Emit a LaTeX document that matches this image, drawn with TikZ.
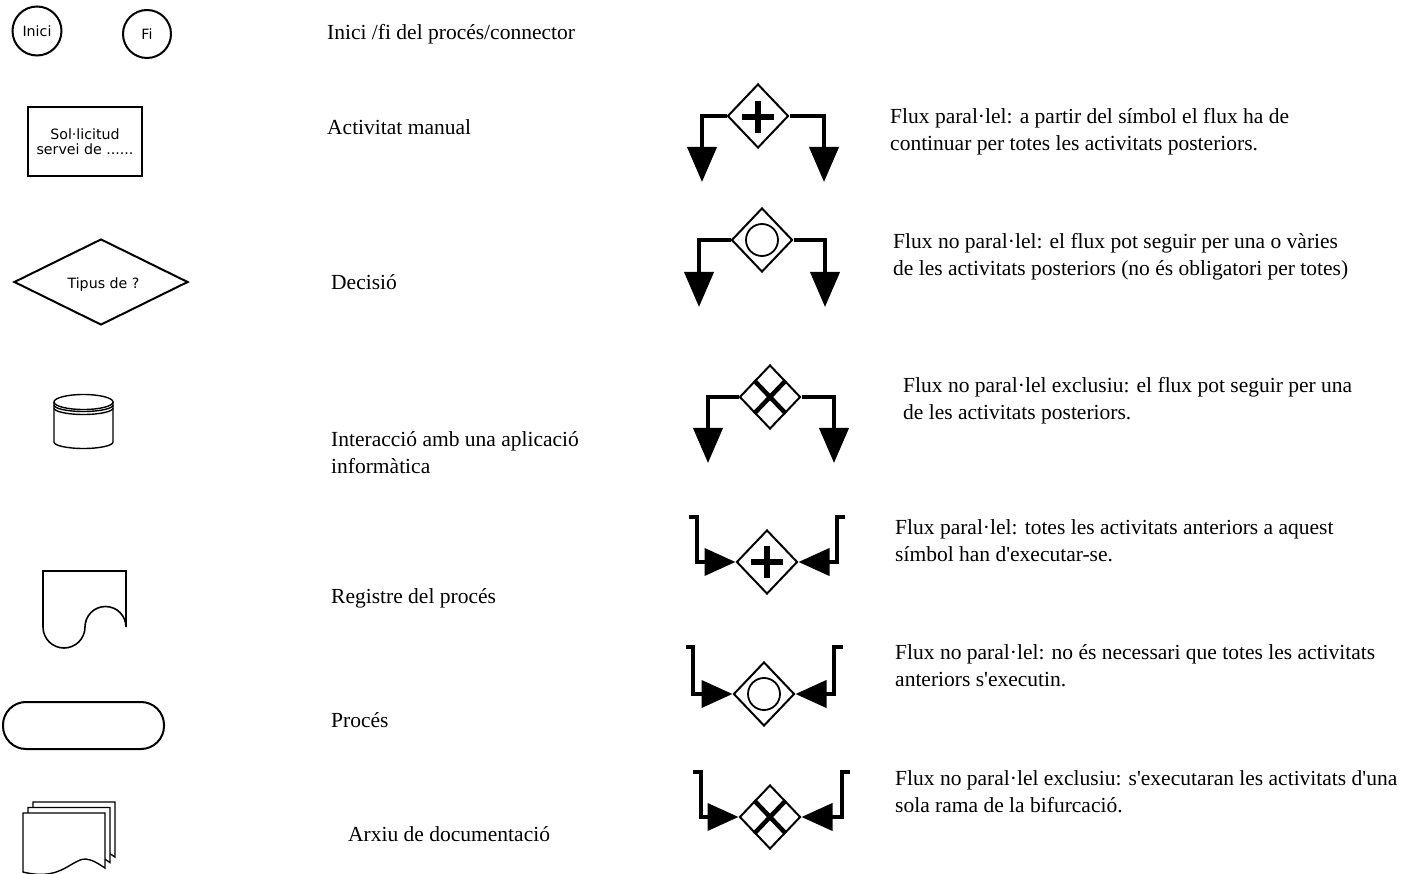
\documentclass[tikz,border=0pt]{standalone}
\usepackage{fontspec}
\setmainfont{Liberation Serif}
\newfontfamily\sansf{DejaVu Sans}
\usetikzlibrary{shapes.geometric,arrows.meta,calc}
\newcommand\sq{\textquotesingle}
\begin{document}
\begin{tikzpicture}[x=1pt,y=-1pt,
  shp/.style={draw, line width=2pt, inner sep=0pt, font=\sansf\fontsize{14.2}{16.5}\selectfont, align=center},
  thin/.style={line width=1.4pt},
  txt/.style={anchor=base west, inner sep=0pt, font=\fontsize{21.5}{27}\selectfont, align=left},
  gw/.style={diamond, draw, line width=2pt, fill=white, inner sep=0pt, minimum width=61pt, minimum height=64pt},
  flow/.style={line width=4pt, line join=miter},
  tipdown/.style={-{Triangle[length=35pt,width=29pt]}},
  tipin/.style={-{Triangle[length=31pt,width=27pt]}},
  plusline/.style={line width=6pt},
  xline/.style={line width=4.5pt},
  ring/.style={line width=1.8pt}]
\useasboundingbox (0,0) rectangle (1409,874);

% ---------- left column shapes ----------
\node[shp, circle, minimum size=49pt] (inici) at (37,31) {Inici};
\node[shp, circle, minimum size=48pt] (fi) at (147,34) {Fi};
\node[shp, rectangle, minimum width=114pt, minimum height=69pt] (manual) at (85,141.5) {Sol·licitud\\[-1pt]servei de ......};
\node[shp, diamond, minimum width=174pt, minimum height=86pt] (decisio) at (101,282) {\raisebox{-7pt}[0pt][0pt]{\hspace*{5pt}Tipus de ?}};

% cylinder (application)
\draw[thin, fill=white] (54,402) -- (54,442) arc[start angle=180, end angle=0, x radius=29.5, y radius=6.5] -- (113,402);
\draw[thin] (83.5,402) ellipse[x radius=29.5, y radius=7.5];
\draw[thin] (54,405) arc[start angle=180, end angle=0, x radius=29.5, y radius=6.5];
\draw[thin] (54,408) arc[start angle=180, end angle=0, x radius=29.5, y radius=6.5];

% registre del proces
\draw[line width=1.6pt] (43,571) -- (43,627) arc[start angle=180, end angle=0, radius=21]
  arc[start angle=180, end angle=360, radius=20.5] -- (126,571) -- cycle;

% proces
\draw[line width=2pt, rounded corners=23pt] (3,702) rectangle (164,749);

% arxiu de documentacio (three pages)
\foreach \dx/\dy in {10/-11, 5/-5.5, 0/0}{
  \draw[thin, fill=white, shift={(\dx,\dy)}] (23,813) -- (105,813) -- (105,868)
    .. controls (96,862) and (88,857) .. (80,860)
    .. controls (66,866) and (55,880) .. (23,872) -- cycle;
}

% ---------- middle column texts ----------
\node[txt] (t1) at (327,39.5) {Inici /fi del procés/connector};
\node[txt] (t2) at (327,135) {Activitat manual};
\node[txt] (t3) at (331,290) {Decisió};
\node[txt] (t4) at (331,474) {Interacció amb una aplicació\\informàtica};
\node[txt] (t5) at (331,603) {Registre del procés};
\node[txt] (t6) at (331,727) {Procés};
\node[txt] (t7) at (348,841) {Arxiu de documentació};

% ---------- gateways: diverging ----------
\node[gw] (g1) at (758,116) {};
\coordinate (g1l) at (702,182);
\coordinate (g1r) at (824,182);
\draw[flow, tipdown] (g1.west) -| (g1l);
\draw[flow, tipdown] (g1.east) -| (g1r);
\draw[plusline] ([xshift=-16pt,yshift=-1pt]g1.center) -- ([xshift=16pt,yshift=-1pt]g1.center);
\draw[plusline] ([yshift=-17pt]g1.center) -- ([yshift=15pt]g1.center);

\node[gw] (g2) at (762,240) {};
\coordinate (g2l) at (699,307);
\coordinate (g2r) at (825,307);
\draw[flow, tipdown] (g2.west) -| (g2l);
\draw[flow, tipdown] (g2.east) -| (g2r);
\draw[ring] (g2.center) circle[radius=16pt];

\node[gw] (g3) at (770,397) {};
\coordinate (g3l) at (708,463);
\coordinate (g3r) at (834,463);
\draw[flow, tipdown] (g3.west) -| (g3l);
\draw[flow, tipdown] (g3.east) -| (g3r);
\draw[xline] ($(g3.north)!0.5!(g3.west)$) -- ($(g3.south)!0.5!(g3.east)$);
\draw[xline] ($(g3.north)!0.5!(g3.east)$) -- ($(g3.south)!0.5!(g3.west)$);

% ---------- gateways: converging ----------
\node[gw] (g4) at (767,562) {};
\coordinate (g4a) at (689,517);
\coordinate (g4b) at (845,517);
\draw[flow, tipin] (g4a) -- ++(8,0) |- (g4.west);
\draw[flow, tipin] (g4b) -- ++(-8,0) |- (g4.east);
\draw[plusline] ([xshift=-16pt]g4.center) -- ([xshift=16pt]g4.center);
\draw[plusline] ([yshift=-16pt]g4.center) -- ([yshift=16pt]g4.center);

\node[gw] (g5) at (764,694) {};
\coordinate (g5a) at (686,647);
\coordinate (g5b) at (843,647);
\draw[flow, tipin] (g5a) -- ++(7,0) |- (g5.west);
\draw[flow, tipin] (g5b) -- ++(-9,0) |- (g5.east);
\draw[ring] (g5.center) circle[radius=16pt];

\node[gw] (g6) at (770,817) {};
\coordinate (g6a) at (693,772);
\coordinate (g6b) at (850,772);
\draw[flow, tipin] (g6a) -- ++(8,0) |- (g6.west);
\draw[flow, tipin] (g6b) -- ++(-8,0) |- (g6.east);
\draw[xline] ($(g6.north)!0.5!(g6.west)$) -- ($(g6.south)!0.5!(g6.east)$);
\draw[xline] ($(g6.north)!0.5!(g6.east)$) -- ($(g6.south)!0.5!(g6.west)$);

% ---------- right column texts ----------
\node[txt] (d1) at (890,151) {Flux paral·lel: a partir del símbol el flux ha de\\continuar per totes les activitats posteriors.};
\node[txt] (d2) at (893,276) {Flux no paral·lel: el flux pot seguir per una o vàries\\de les activitats posteriors (no és obligatori per totes)};
\node[txt] (d3) at (903,420) {Flux no paral·lel exclusiu: el flux pot seguir per una\\de les activitats posteriors.};
\node[txt] (d4) at (895,561) {Flux paral·lel: totes les activitats anteriors a aquest\\símbol han d\sq executar-se.};
\node[txt] (d5) at (895,686) {Flux no paral·lel: no és necessari que totes les activitats\\anteriors s\sq executin.};
\node[txt] (d6) at (895,812) {Flux no paral·lel exclusiu: s\sq executaran les activitats d\sq una\\sola rama de la bifurcació.};
\end{tikzpicture}
\end{document}
